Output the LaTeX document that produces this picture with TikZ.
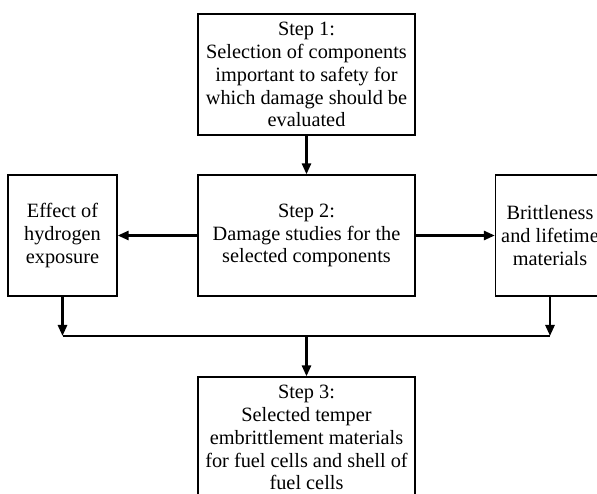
\documentclass[tikz,border=0pt]{standalone}
\usepackage{fontspec}
\setmainfont{Liberation Serif}
\usetikzlibrary{arrows.meta}

\tikzset{
  stepbox/.style={draw, line width=1.3pt, minimum width=217pt, minimum height=121pt,
    align=center, inner sep=2pt, font=\fontsize{20.3}{22.9}\selectfont},
  sidebox/.style={stepbox, minimum width=109pt},
  flow/.style={line width=2.6pt, -{Triangle[length=11pt,width=9pt]}},
  busline/.style={line width=1.5pt}
}

\begin{document}
\begin{tikzpicture}[x=1pt,y=1pt]
\clip (0,0) rectangle (597,493);
\useasboundingbox (0,0) rectangle (597,493);

\node[stepbox] (S1) at (306.5,418.5) {Step 1:\\Selection of components\\important to safety for\\which damage should be\\evaluated};
\node[stepbox] (S2) at (306.5,257.5) {Step 2:\\Damage studies for the\\selected components};
\node[sidebox] (H) at (62.5,257.5) {Effect of\\hydrogen\\exposure};
\node[sidebox] (B) at (550,257.5) {Brittleness\\and lifetime\\materials};
\node[stepbox] (S3) at (306.5,55.5) {Step 3:\\Selected temper\\embrittlement materials\\for fuel cells and shell of\\fuel cells};

\coordinate (JH) at (62.5,157);
\coordinate (JB) at (550,157);
\coordinate (JM) at (306.5,157);

\draw[flow] (S1) -- (S2);
\draw[flow] (S2) -- (H);
\draw[flow] (S2) -- (B);
\draw[flow] (H) -- (JH);
\draw[flow] (B) -- (JB);
\draw[busline] (JH) -- (JB);
\draw[flow] (JM) -- (S3);
\end{tikzpicture}
\end{document}
